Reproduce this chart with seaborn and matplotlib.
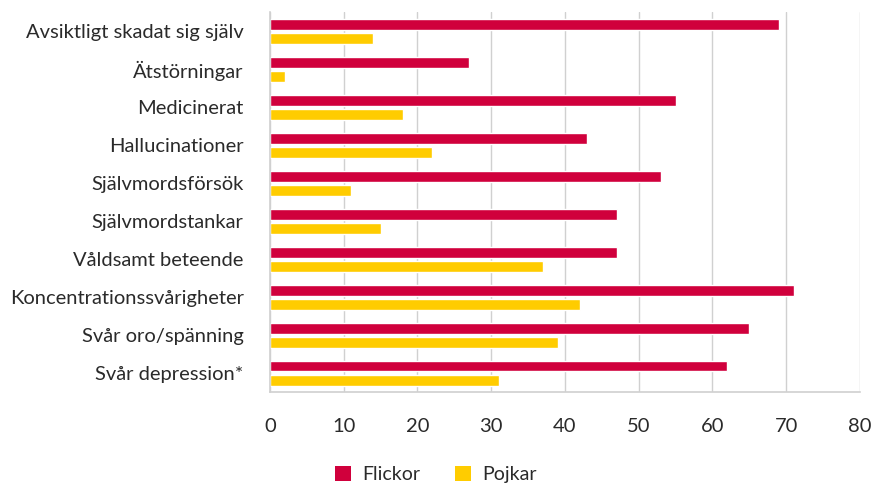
import matplotlib
matplotlib.use("Agg")
import matplotlib.pyplot as plt
import seaborn as sns
import pandas as pd
from matplotlib.patches import Patch

categories = ["Avsiktligt skadat sig själv", "Ätstörningar", "Medicinerat", "Hallucinationer",
              "Självmordsförsök", "Självmordstankar", "Våldsamt beteende",
              "Koncentrationssvårigheter", "Svår oro/spänning", "Svår depression*"]
flickor = [69, 27, 55, 43, 53, 47, 47, 71, 65, 62]
pojkar = [14, 2, 18, 22, 11, 15, 37, 42, 39, 31]
series = ["Flickor", "Pojkar"]
colors = ["#D0003C", "#FFCC00"]
xticks = [0, 10, 20, 30, 40, 50, 60, 70, 80]

df = pd.DataFrame({
    "kategori": categories * 2,
    "värde": flickor + pojkar,
    "kön": [series[0]] * len(categories) + [series[1]] * len(categories),
})

sns.set_theme(style="white")
plt.rcParams['font.family'] = ['Lato', 'DejaVu Sans']

TXT = "#2a2a2a"
FS = 14.5

fig = plt.figure(figsize=(8.81, 4.87), dpi=100)
ax = fig.add_axes([0.3065, 0.195, 0.6695, 0.78])

sns.barplot(data=df, y="kategori", x="värde", hue="kön", order=categories,
            hue_order=series, palette=colors, orient="h", width=0.74, gap=0.22,
            saturation=1, ax=ax, legend=False, errorbar=None)

ax.set_xlim(0, 80)
ax.set_xticks(xticks)
ax.set_xticklabels([str(t) for t in xticks], fontsize=FS, color=TXT)
ax.set_yticklabels(categories, fontsize=FS, color=TXT)
ax.set_xlabel("")
ax.set_ylabel("")
ax.xaxis.grid(True, color="#D0D0D0", linewidth=1)
ax.set_axisbelow(True)
for s in ["top", "right"]:
    ax.spines[s].set_visible(False)
for s in ["left", "bottom"]:
    ax.spines[s].set_color("#D0D0D0")
    ax.spines[s].set_linewidth(1.2)
ax.tick_params(axis="y", length=0, pad=19)
ax.tick_params(axis="x", length=0, pad=19)
ax.set_ylim(len(categories) - 0.5, -0.5)

handles = [Patch(facecolor=c, edgecolor='none') for c in colors]
leg = fig.legend(handles, series, loc="center", bbox_to_anchor=(0.495, 0.025), ncol=2,
                 frameon=False, fontsize=14, handlelength=0.8, handleheight=0.8,
                 columnspacing=1.8, handletextpad=0.6)
for t in leg.get_texts():
    t.set_color(TXT)

fig.savefig("out.png", dpi=100)
